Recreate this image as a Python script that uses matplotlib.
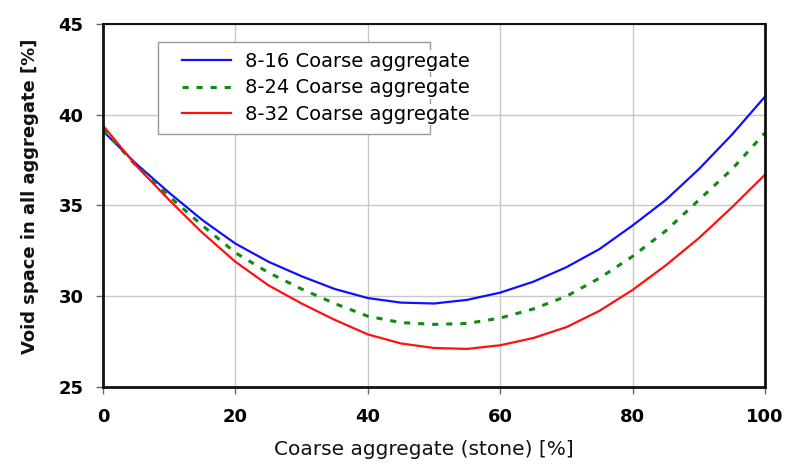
import numpy as np
import matplotlib.pyplot as plt
from matplotlib.patches import Rectangle

# Coarse aggregate share [%] and void space [%]
stone = [0, 5, 10, 15, 20, 25, 30, 35, 40, 45, 50, 55, 60, 65, 70, 75, 80, 85, 90, 95, 100]
void_8_16 = [39.1, 37.3, 35.7, 34.2, 32.9, 31.9, 31.1, 30.4, 29.9, 29.65, 29.6, 29.8, 30.2, 30.8, 31.6, 32.6, 33.9, 35.3, 37.0, 38.9, 41.0]
void_8_24 = [39.2, 37.2, 35.5, 33.9, 32.4, 31.3, 30.4, 29.6, 28.9, 28.55, 28.45, 28.5, 28.8, 29.3, 30.0, 31.0, 32.2, 33.6, 35.3, 37.0, 39.0]
void_8_32 = [39.4, 37.2, 35.3, 33.5, 31.9, 30.6, 29.6, 28.7, 27.9, 27.4, 27.15, 27.1, 27.3, 27.7, 28.3, 29.2, 30.35, 31.7, 33.2, 34.9, 36.7]

xticks = [0, 20, 40, 60, 80, 100]
yticks = [25, 30, 35, 40, 45]

fig = plt.figure(figsize=(7.92, 4.68), dpi=100)
ax = fig.add_axes([0.130, 0.173, 0.836, 0.776])

ax.plot(stone, void_8_16, color='#1010ff', lw=1.6, label='8-16 Coarse aggregate')
ax.plot(stone, void_8_24, color='#108a10', lw=2.2, ls=(0, (2.0, 2.6)), label='8-24 Coarse aggregate')
ax.plot(stone, void_8_32, color='#ff1010', lw=1.6, label='8-32 Coarse aggregate')

ax.set_xlim(0, 100)
ax.set_ylim(25, 45)
ax.set_xticks(xticks)
ax.set_yticks(yticks)
ax.grid(True, color='#c8c8c8', lw=1.0)
ax.set_axisbelow(True)

for side in ['left', 'bottom', 'top', 'right']:
    ax.spines[side].set_color('#111111')
ax.spines['left'].set_linewidth(2.0)
ax.spines['bottom'].set_linewidth(2.0)
ax.spines['top'].set_linewidth(1.5)
ax.spines['right'].set_linewidth(2.0)

ax.tick_params(direction='out', length=5, width=1, color='#666666', labelsize=13)
ax.tick_params(axis='y', pad=9)
ax.tick_params(axis='x', pad=10)
for lab in ax.get_xticklabels() + ax.get_yticklabels():
    lab.set_fontweight('bold')

ax.set_xlabel('Coarse aggregate (stone) [%]', fontsize=14.5, labelpad=10, color='#111111')
ax.set_ylabel('Void space in all aggregate [%]', fontsize=13, fontweight='bold', labelpad=14, color='#111111')
ax.xaxis.label.set_x(0.484)
ax.yaxis.label.set_y(0.525)

# legend frame is narrower than the labels in the original, so draw it separately
ax.add_patch(Rectangle((0.083, 0.697), 0.411, 0.253, transform=ax.transAxes,
                       facecolor='white', edgecolor='#999999', lw=1.0, zorder=4))
leg = ax.legend(loc='upper left', bbox_to_anchor=(0.089, 0.98), fontsize=14, frameon=False,
                handlelength=2.5, borderpad=0.55, labelspacing=0.40, handletextpad=0.7)
leg.set_zorder(5)
for t in leg.get_texts():
    t.set_bbox(dict(facecolor='white', edgecolor='none', pad=1))

fig.savefig('out.png', dpi=100)
